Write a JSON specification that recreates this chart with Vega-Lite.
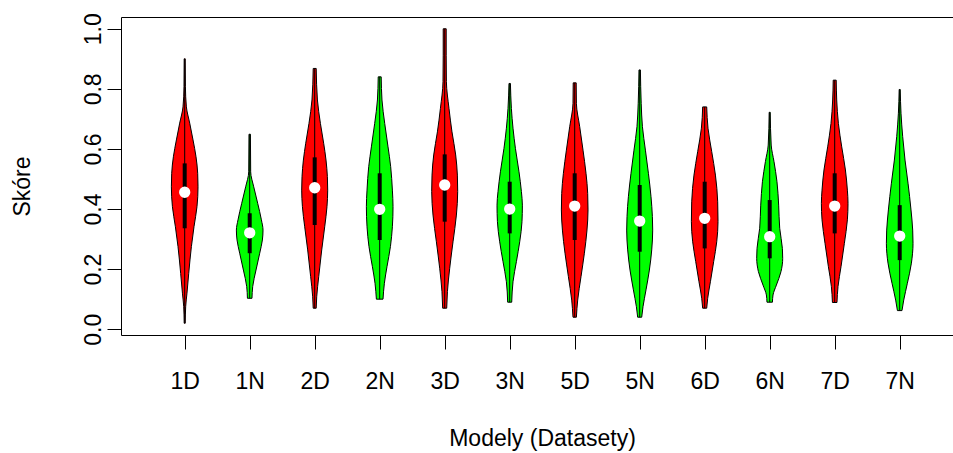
{
  "$schema": "https://vega.github.io/schema/vega-lite/v6.json",
  "autosize": {"type": "none"},
  "padding": {"left": 121, "top": 17, "right": 0, "bottom": 118},
  "width": 832,
  "height": 318,
  "background": "white",
  "config": {
    "view": {"stroke": null},
    "axis": {
      "domainColor": "black", "domainWidth": 1,
      "tickColor": "black", "tickWidth": 1,
      "labelColor": "black", "titleColor": "black",
      "labelFont": "Liberation Sans", "titleFont": "Liberation Sans",
      "labelFontSize": 23, "titleFontSize": 23, "titleFontWeight": "normal",
      "grid": false, "labelFlush": false, "labelOverlap": false, "labelBound": false
    }
  },
  "datasets": {
    "violin": [
      {"m": "1D", "v": 0.90, "l": 0.992, "r": 1.008},
      {"m": "1D", "v": 0.807, "l": 0.989, "r": 1.011},
      {"m": "1D", "v": 0.74, "l": 0.974, "r": 1.026},
      {"m": "1D", "v": 0.686, "l": 0.923, "r": 1.077},
      {"m": "1D", "v": 0.63, "l": 0.872, "r": 1.128},
      {"m": "1D", "v": 0.574, "l": 0.826, "r": 1.174},
      {"m": "1D", "v": 0.519, "l": 0.80, "r": 1.20},
      {"m": "1D", "v": 0.474, "l": 0.795, "r": 1.205},
      {"m": "1D", "v": 0.408, "l": 0.811, "r": 1.189},
      {"m": "1D", "v": 0.341, "l": 0.857, "r": 1.143},
      {"m": "1D", "v": 0.275, "l": 0.897, "r": 1.103},
      {"m": "1D", "v": 0.186, "l": 0.938, "r": 1.062},
      {"m": "1D", "v": 0.12, "l": 0.965, "r": 1.035},
      {"m": "1D", "v": 0.075, "l": 0.985, "r": 1.015},
      {"m": "1D", "v": 0.02, "l": 0.992, "r": 1.008},

      {"m": "1N", "v": 0.649, "l": 1.989, "r": 2.011},
      {"m": "1N", "v": 0.524, "l": 1.985, "r": 2.015},
      {"m": "1N", "v": 0.474, "l": 1.938, "r": 2.062},
      {"m": "1N", "v": 0.419, "l": 1.877, "r": 2.123},
      {"m": "1N", "v": 0.364, "l": 1.82, "r": 2.18},
      {"m": "1N", "v": 0.33, "l": 1.795, "r": 2.205},
      {"m": "1N", "v": 0.297, "l": 1.805, "r": 2.195},
      {"m": "1N", "v": 0.253, "l": 1.846, "r": 2.154},
      {"m": "1N", "v": 0.197, "l": 1.903, "r": 2.097},
      {"m": "1N", "v": 0.142, "l": 1.954, "r": 2.046},
      {"m": "1N", "v": 0.103, "l": 1.965, "r": 2.035},

      {"m": "2D", "v": 0.868, "l": 2.977, "r": 3.023},
      {"m": "2D", "v": 0.763, "l": 2.958, "r": 3.042},
      {"m": "2D", "v": 0.685, "l": 2.912, "r": 3.088},
      {"m": "2D", "v": 0.619, "l": 2.862, "r": 3.138},
      {"m": "2D", "v": 0.563, "l": 2.826, "r": 3.174},
      {"m": "2D", "v": 0.508, "l": 2.805, "r": 3.195},
      {"m": "2D", "v": 0.463, "l": 2.80, "r": 3.20},
      {"m": "2D", "v": 0.408, "l": 2.811, "r": 3.189},
      {"m": "2D", "v": 0.341, "l": 2.846, "r": 3.154},
      {"m": "2D", "v": 0.264, "l": 2.892, "r": 3.108},
      {"m": "2D", "v": 0.175, "l": 2.938, "r": 3.062},
      {"m": "2D", "v": 0.108, "l": 2.969, "r": 3.031},
      {"m": "2D", "v": 0.07, "l": 2.977, "r": 3.023},

      {"m": "2N", "v": 0.84, "l": 3.977, "r": 4.023},
      {"m": "2N", "v": 0.763, "l": 3.965, "r": 4.035},
      {"m": "2N", "v": 0.685, "l": 3.923, "r": 4.077},
      {"m": "2N", "v": 0.607, "l": 3.872, "r": 4.128},
      {"m": "2N", "v": 0.541, "l": 3.831, "r": 4.169},
      {"m": "2N", "v": 0.463, "l": 3.805, "r": 4.195},
      {"m": "2N", "v": 0.408, "l": 3.795, "r": 4.205},
      {"m": "2N", "v": 0.341, "l": 3.805, "r": 4.195},
      {"m": "2N", "v": 0.275, "l": 3.835, "r": 4.165},
      {"m": "2N", "v": 0.208, "l": 3.888, "r": 4.112},
      {"m": "2N", "v": 0.153, "l": 3.928, "r": 4.072},
      {"m": "2N", "v": 0.10, "l": 3.949, "r": 4.051},

      {"m": "3D", "v": 1.0, "l": 4.977, "r": 5.023},
      {"m": "3D", "v": 0.912, "l": 4.977, "r": 5.023},
      {"m": "3D", "v": 0.824, "l": 4.974, "r": 5.026},
      {"m": "3D", "v": 0.735, "l": 4.934, "r": 5.066},
      {"m": "3D", "v": 0.657, "l": 4.888, "r": 5.112},
      {"m": "3D", "v": 0.58, "l": 4.831, "r": 5.169},
      {"m": "3D", "v": 0.513, "l": 4.805, "r": 5.195},
      {"m": "3D", "v": 0.458, "l": 4.80, "r": 5.20},
      {"m": "3D", "v": 0.38, "l": 4.82, "r": 5.18},
      {"m": "3D", "v": 0.291, "l": 4.872, "r": 5.128},
      {"m": "3D", "v": 0.203, "l": 4.923, "r": 5.077},
      {"m": "3D", "v": 0.125, "l": 4.958, "r": 5.042},
      {"m": "3D", "v": 0.07, "l": 4.969, "r": 5.031},

      {"m": "3N", "v": 0.818, "l": 5.989, "r": 6.011},
      {"m": "3N", "v": 0.735, "l": 5.974, "r": 6.026},
      {"m": "3N", "v": 0.669, "l": 5.949, "r": 6.051},
      {"m": "3N", "v": 0.602, "l": 5.912, "r": 6.088},
      {"m": "3N", "v": 0.524, "l": 5.857, "r": 6.143},
      {"m": "3N", "v": 0.458, "l": 5.82, "r": 6.18},
      {"m": "3N", "v": 0.413, "l": 5.805, "r": 6.195},
      {"m": "3N", "v": 0.358, "l": 5.811, "r": 6.189},
      {"m": "3N", "v": 0.291, "l": 5.846, "r": 6.154},
      {"m": "3N", "v": 0.225, "l": 5.897, "r": 6.103},
      {"m": "3N", "v": 0.158, "l": 5.949, "r": 6.051},
      {"m": "3N", "v": 0.09, "l": 5.969, "r": 6.031},

      {"m": "5D", "v": 0.82, "l": 6.977, "r": 7.023},
      {"m": "5D", "v": 0.752, "l": 6.974, "r": 7.026},
      {"m": "5D", "v": 0.674, "l": 6.923, "r": 7.077},
      {"m": "5D", "v": 0.596, "l": 6.872, "r": 7.128},
      {"m": "5D", "v": 0.519, "l": 6.826, "r": 7.174},
      {"m": "5D", "v": 0.452, "l": 6.80, "r": 7.20},
      {"m": "5D", "v": 0.397, "l": 6.795, "r": 7.205},
      {"m": "5D", "v": 0.33, "l": 6.811, "r": 7.189},
      {"m": "5D", "v": 0.253, "l": 6.851, "r": 7.149},
      {"m": "5D", "v": 0.175, "l": 6.903, "r": 7.097},
      {"m": "5D", "v": 0.097, "l": 6.954, "r": 7.046},
      {"m": "5D", "v": 0.04, "l": 6.974, "r": 7.026},

      {"m": "5N", "v": 0.863, "l": 7.989, "r": 8.011},
      {"m": "5N", "v": 0.752, "l": 7.977, "r": 8.023},
      {"m": "5N", "v": 0.674, "l": 7.958, "r": 8.042},
      {"m": "5N", "v": 0.596, "l": 7.912, "r": 8.088},
      {"m": "5N", "v": 0.519, "l": 7.866, "r": 8.134},
      {"m": "5N", "v": 0.441, "l": 7.826, "r": 8.174},
      {"m": "5N", "v": 0.375, "l": 7.805, "r": 8.195},
      {"m": "5N", "v": 0.33, "l": 7.80, "r": 8.20},
      {"m": "5N", "v": 0.264, "l": 7.815, "r": 8.185},
      {"m": "5N", "v": 0.197, "l": 7.851, "r": 8.149},
      {"m": "5N", "v": 0.131, "l": 7.903, "r": 8.097},
      {"m": "5N", "v": 0.075, "l": 7.949, "r": 8.051},
      {"m": "5N", "v": 0.04, "l": 7.969, "r": 8.031},

      {"m": "6D", "v": 0.74, "l": 8.969, "r": 9.031},
      {"m": "6D", "v": 0.669, "l": 8.949, "r": 9.051},
      {"m": "6D", "v": 0.591, "l": 8.892, "r": 9.108},
      {"m": "6D", "v": 0.513, "l": 8.835, "r": 9.165},
      {"m": "6D", "v": 0.424, "l": 8.80, "r": 9.20},
      {"m": "6D", "v": 0.358, "l": 8.795, "r": 9.205},
      {"m": "6D", "v": 0.291, "l": 8.815, "r": 9.185},
      {"m": "6D", "v": 0.225, "l": 8.862, "r": 9.138},
      {"m": "6D", "v": 0.158, "l": 8.912, "r": 9.088},
      {"m": "6D", "v": 0.103, "l": 8.954, "r": 9.046},
      {"m": "6D", "v": 0.07, "l": 8.969, "r": 9.031},

      {"m": "6N", "v": 0.722, "l": 9.992, "r": 10.008},
      {"m": "6N", "v": 0.613, "l": 9.977, "r": 10.023},
      {"m": "6N", "v": 0.558, "l": 9.934, "r": 10.066},
      {"m": "6N", "v": 0.491, "l": 9.888, "r": 10.112},
      {"m": "6N", "v": 0.413, "l": 9.862, "r": 10.138},
      {"m": "6N", "v": 0.336, "l": 9.846, "r": 10.154},
      {"m": "6N", "v": 0.269, "l": 9.805, "r": 10.195},
      {"m": "6N", "v": 0.236, "l": 9.80, "r": 10.20},
      {"m": "6N", "v": 0.192, "l": 9.826, "r": 10.174},
      {"m": "6N", "v": 0.147, "l": 9.897, "r": 10.103},
      {"m": "6N", "v": 0.114, "l": 9.949, "r": 10.051},
      {"m": "6N", "v": 0.09, "l": 9.958, "r": 10.042},

      {"m": "7D", "v": 0.829, "l": 10.977, "r": 11.023},
      {"m": "7D", "v": 0.763, "l": 10.969, "r": 11.031},
      {"m": "7D", "v": 0.685, "l": 10.943, "r": 11.057},
      {"m": "7D", "v": 0.607, "l": 10.892, "r": 11.108},
      {"m": "7D", "v": 0.53, "l": 10.835, "r": 11.165},
      {"m": "7D", "v": 0.463, "l": 10.805, "r": 11.195},
      {"m": "7D", "v": 0.419, "l": 10.795, "r": 11.205},
      {"m": "7D", "v": 0.364, "l": 10.805, "r": 11.195},
      {"m": "7D", "v": 0.286, "l": 10.851, "r": 11.149},
      {"m": "7D", "v": 0.208, "l": 10.903, "r": 11.097},
      {"m": "7D", "v": 0.142, "l": 10.949, "r": 11.051},
      {"m": "7D", "v": 0.089, "l": 10.965, "r": 11.035},

      {"m": "7N", "v": 0.798, "l": 11.992, "r": 12.008},
      {"m": "7N", "v": 0.719, "l": 11.98, "r": 12.02},
      {"m": "7N", "v": 0.641, "l": 11.954, "r": 12.046},
      {"m": "7N", "v": 0.563, "l": 11.918, "r": 12.082},
      {"m": "7N", "v": 0.486, "l": 11.872, "r": 12.128},
      {"m": "7N", "v": 0.397, "l": 11.826, "r": 12.174},
      {"m": "7N", "v": 0.33, "l": 11.80, "r": 12.20},
      {"m": "7N", "v": 0.286, "l": 11.795, "r": 12.205},
      {"m": "7N", "v": 0.22, "l": 11.82, "r": 12.18},
      {"m": "7N", "v": 0.153, "l": 11.882, "r": 12.118},
      {"m": "7N", "v": 0.097, "l": 11.938, "r": 12.062},
      {"m": "7N", "v": 0.062, "l": 11.965, "r": 12.035}
    ],
    "stats": [
      {"m": "1D", "i": 1, "q1": 0.336, "q3": 0.552, "lo": 0.02, "hi": 0.90, "med": 0.456},
      {"m": "1N", "i": 2, "q1": 0.253, "q3": 0.386, "lo": 0.103, "hi": 0.649, "med": 0.321},
      {"m": "2D", "i": 3, "q1": 0.347, "q3": 0.572, "lo": 0.07, "hi": 0.868, "med": 0.471},
      {"m": "2N", "i": 4, "q1": 0.297, "q3": 0.519, "lo": 0.10, "hi": 0.84, "med": 0.399},
      {"m": "3D", "i": 5, "q1": 0.358, "q3": 0.582, "lo": 0.07, "hi": 1.0, "med": 0.48},
      {"m": "3N", "i": 6, "q1": 0.319, "q3": 0.491, "lo": 0.09, "hi": 0.818, "med": 0.40},
      {"m": "5D", "i": 7, "q1": 0.297, "q3": 0.519, "lo": 0.04, "hi": 0.82, "med": 0.41},
      {"m": "5N", "i": 8, "q1": 0.258, "q3": 0.48, "lo": 0.04, "hi": 0.863, "med": 0.36},
      {"m": "6D", "i": 9, "q1": 0.269, "q3": 0.491, "lo": 0.07, "hi": 0.74, "med": 0.369},
      {"m": "6N", "i": 10, "q1": 0.236, "q3": 0.43, "lo": 0.09, "hi": 0.722, "med": 0.308},
      {"m": "7D", "i": 11, "q1": 0.319, "q3": 0.519, "lo": 0.089, "hi": 0.829, "med": 0.41},
      {"m": "7N", "i": 12, "q1": 0.23, "q3": 0.413, "lo": 0.062, "hi": 0.798, "med": 0.31}
    ]
  },
  "layer": [
    {
      "data": {"name": "violin"},
      "mark": {"type": "area", "orient": "horizontal", "interpolate": "monotone", "stroke": "black", "strokeWidth": 1, "fillOpacity": 1},
      "encoding": {
        "y": {
          "field": "v", "type": "quantitative",
          "scale": {"domain": [-0.0192, 1.0392], "nice": false, "zero": false},
          "axis": {
            "values": [0, 0.2, 0.4, 0.6, 0.8, 1.0], "format": ".1f",
            "labelAngle": 270, "labelAlign": "center", "labelBaseline": "middle",
            "tickSize": 14, "labelPadding": 14,
            "title": "Skóre", "titleAngle": 270, "titleX": -99, "titleY": 169, "titleBaseline": "middle", "titleAlign": "center"
          }
        },
        "x": {
          "field": "l", "type": "quantitative",
          "scale": {"domain": [0.02, 12.82], "nice": false, "zero": false},
          "axis": {
            "values": [1, 2, 3, 4, 5, 6, 7, 8, 9, 10, 11, 12],
            "labelExpr": "['1D','1N','2D','2N','3D','3N','5D','5N','6D','6N','7D','7N'][datum.value - 1]",
            "tickSize": 14, "labelPadding": 32, "labelBaseline": "middle", "labelAngle": 0,
            "title": "Modely (Datasety)", "titleX": 421, "titleY": 103, "titleBaseline": "middle", "titleAlign": "center"
          }
        },
        "x2": {"field": "r"},
        "color": {
          "field": "m", "type": "nominal", "legend": null,
          "scale": {
            "domain": ["1D", "1N", "2D", "2N", "3D", "3N", "5D", "5N", "6D", "6N", "7D", "7N"],
            "range": ["#ff0000", "#00ff00", "#ff0000", "#00ff00", "#ff0000", "#00ff00", "#ff0000", "#00ff00", "#ff0000", "#00ff00", "#ff0000", "#00ff00"]
          }
        }
      }
    },
    {
      "data": {"name": "stats"},
      "mark": {"type": "rule", "color": "black", "strokeWidth": 1},
      "encoding": {
        "x": {"field": "i", "type": "quantitative", "axis": {"orient": "top", "labels": false, "ticks": false, "domain": true, "title": null}},
        "y": {"field": "lo", "type": "quantitative"},
        "y2": {"field": "hi"}
      }
    },
    {
      "data": {"name": "stats"},
      "mark": {"type": "rule", "color": "black", "strokeWidth": 4, "strokeCap": "butt"},
      "encoding": {
        "x": {"field": "i", "type": "quantitative", "axis": null},
        "y": {"field": "q1", "type": "quantitative"},
        "y2": {"field": "q3"}
      }
    },
    {
      "data": {"name": "stats"},
      "mark": {"type": "circle", "color": "white", "opacity": 1, "size": 128},
      "encoding": {
        "x": {"field": "i", "type": "quantitative", "axis": null},
        "y": {"field": "med", "type": "quantitative"}
      }
    }
  ],
  "resolve": {"axis": {"x": "independent"}}
}
